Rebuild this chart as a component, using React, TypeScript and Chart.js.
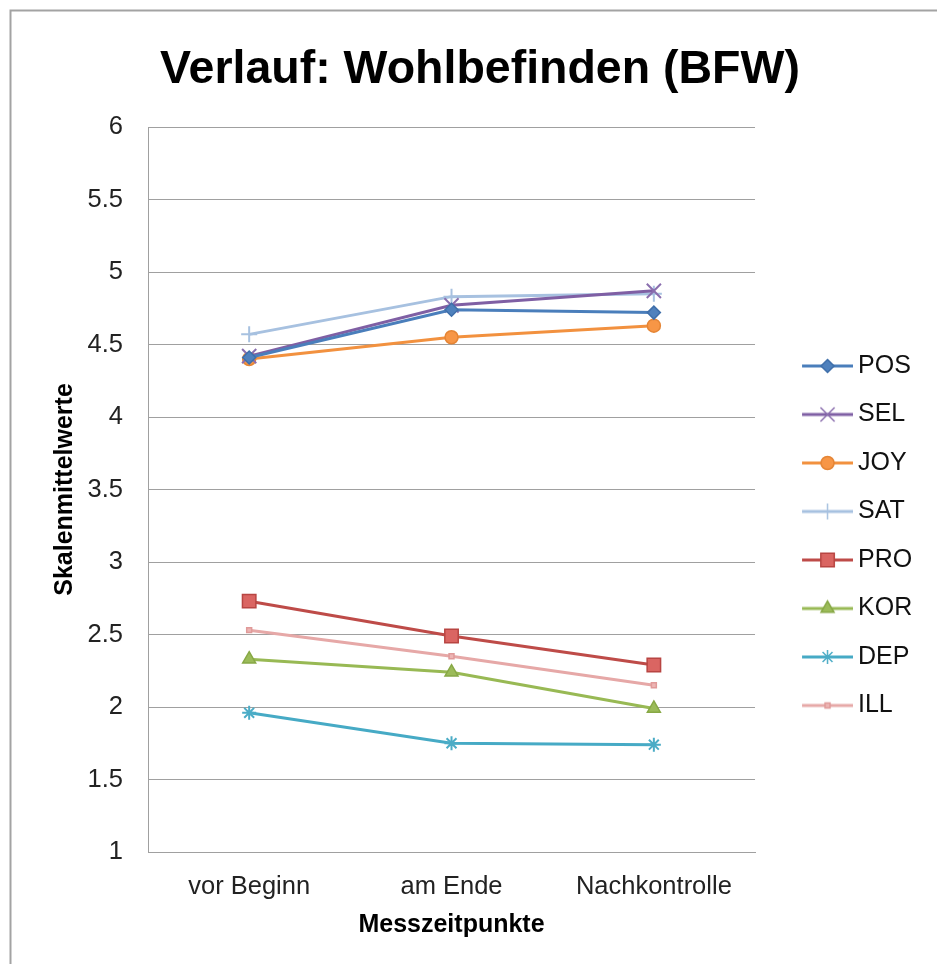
import React, { useEffect, useRef } from 'react';
import { Chart, registerables } from 'chart.js';

Chart.register(...registerables);

const categories = ['vor Beginn', 'am Ende', 'Nachkontrolle'];
const seriesNames = ['POS', 'SEL', 'JOY', 'SAT', 'PRO', 'KOR', 'DEP', 'ILL'];
const POS = [4.41, 4.74, 4.72];
const SEL = [4.42, 4.77, 4.87];
const JOY = [4.4, 4.55, 4.63];
const SAT = [4.57, 4.83, 4.85];
const PRO = [2.73, 2.49, 2.29];
const KOR = [2.33, 2.24, 1.99];
const DEP = [1.96, 1.75, 1.74];
const ILL = [2.53, 2.35, 2.15];
const seriesValues = [POS, SEL, JOY, SAT, PRO, KOR, DEP, ILL];
const yMin = 1;
const yMax = 6;
const yStep = 0.5;

const titleText = 'Verlauf: Wohlbefinden (BFW)';
const xTitle = 'Messzeitpunkte';
const yTitle = 'Skalenmittelwerte';

const FONT = "'Liberation Sans', Arial, Helvetica, sans-serif";

type Style = { line: string; fill: string; border: string; point: string; radius: number };
const styles: Style[] = [
  { line: '#4A7EBB', fill: '#4F81BD', border: '#3F6FAA', point: 'rectRot', radius: 6.5 },
  { line: '#7F5FA4', fill: '#8064A2', border: '#8A6EAE', point: 'crossRot', radius: 10 },
  { line: '#F2913F', fill: '#F79646', border: '#E58535', point: 'circle', radius: 6.5 },
  { line: '#A7C1E0', fill: '#A7C1E0', border: '#A7C1E0', point: 'cross', radius: 8 },
  { line: '#BE4B48', fill: '#DA6562', border: '#B84542', point: 'rect', radius: 9.5 },
  { line: '#98B954', fill: '#9BBB59', border: '#87A845', point: 'triangle', radius: 7.5 },
  { line: '#46AAC5', fill: '#4BACC6', border: '#4BACC6', point: 'star', radius: 7 },
  { line: '#E6A8A7', fill: '#EDB5B4', border: '#E09A99', point: 'rect', radius: 3.5 },
];

function drawMarker(ctx: CanvasRenderingContext2D, s: Style, cx: number, cy: number) {
  const r = s.radius;
  ctx.save();
  ctx.fillStyle = s.fill;
  ctx.strokeStyle = s.border;
  ctx.lineWidth = 1.5;
  ctx.beginPath();
  switch (s.point) {
    case 'rectRot':
      ctx.moveTo(cx, cy - r);
      ctx.lineTo(cx + r, cy);
      ctx.lineTo(cx, cy + r);
      ctx.lineTo(cx - r, cy);
      ctx.closePath();
      ctx.fill();
      ctx.stroke();
      break;
    case 'circle':
      ctx.arc(cx, cy, r, 0, Math.PI * 2);
      ctx.fill();
      ctx.stroke();
      break;
    case 'rect': {
      const h = r * Math.SQRT1_2;
      ctx.rect(cx - h, cy - h, 2 * h, 2 * h);
      ctx.fill();
      ctx.stroke();
      break;
    }
    case 'triangle': {
      for (let i = 0; i < 3; i++) {
        const a = (i * 2 * Math.PI) / 3;
        const px = cx + Math.sin(a) * r;
        const py = cy - Math.cos(a) * r;
        if (i === 0) ctx.moveTo(px, py);
        else ctx.lineTo(px, py);
      }
      ctx.closePath();
      ctx.fill();
      ctx.stroke();
      break;
    }
    case 'cross':
      ctx.moveTo(cx, cy - r);
      ctx.lineTo(cx, cy + r);
      ctx.moveTo(cx - r, cy);
      ctx.lineTo(cx + r, cy);
      ctx.stroke();
      break;
    case 'crossRot': {
      const d = r * Math.SQRT1_2;
      ctx.moveTo(cx - d, cy - d);
      ctx.lineTo(cx + d, cy + d);
      ctx.moveTo(cx - d, cy + d);
      ctx.lineTo(cx + d, cy - d);
      ctx.stroke();
      break;
    }
    case 'star': {
      const d = r * Math.SQRT1_2;
      ctx.moveTo(cx, cy - r);
      ctx.lineTo(cx, cy + r);
      ctx.moveTo(cx - r, cy);
      ctx.lineTo(cx + r, cy);
      ctx.moveTo(cx - d, cy - d);
      ctx.lineTo(cx + d, cy + d);
      ctx.moveTo(cx - d, cy + d);
      ctx.lineTo(cx + d, cy - d);
      ctx.stroke();
      break;
    }
  }
  ctx.restore();
}

// legend icon: line with marker; the image is centred in the legend box
const ICON_W = 82;
const ICON_H = 24;
const ICON_LINE_START = 31;
const ICON_LINE_LEN = 51;

function makeIcon(s: Style): HTMLCanvasElement {
  const c = document.createElement('canvas');
  c.width = ICON_W;
  c.height = ICON_H;
  const ctx = c.getContext('2d')!;
  ctx.strokeStyle = s.line;
  ctx.lineWidth = 3;
  ctx.beginPath();
  ctx.moveTo(ICON_LINE_START, ICON_H / 2);
  ctx.lineTo(ICON_LINE_START + ICON_LINE_LEN, ICON_H / 2);
  ctx.stroke();
  drawMarker(ctx, s, ICON_LINE_START + ICON_LINE_LEN / 2, ICON_H / 2);
  return c;
}

const framePlugin = {
  id: 'frame',
  beforeDraw(chart: any) {
    const { ctx, width, height } = chart;
    ctx.save();
    ctx.fillStyle = '#ffffff';
    ctx.fillRect(0, 0, width, height);
    ctx.strokeStyle = '#a3a3a3';
    ctx.lineWidth = 2;
    ctx.strokeRect(10.5, 10.5, width + 20, height + 20);
    ctx.restore();
  },
};

export default function App() {
  const ref = useRef<HTMLCanvasElement | null>(null);

  useEffect(() => {
    if (!ref.current) return;
    const icons = styles.map(makeIcon);
    const chart = new Chart(ref.current, {
      type: 'line',
      data: {
        labels: categories,
        datasets: seriesNames.map((name, i) => ({
          label: name,
          data: seriesValues[i],
          borderColor: styles[i].line,
          backgroundColor: styles[i].fill,
          borderWidth: 3,
          pointStyle: styles[i].point as any,
          pointRadius: styles[i].radius,
          pointBackgroundColor: styles[i].fill,
          pointBorderColor: styles[i].border,
          pointBorderWidth:
            styles[i].point === 'cross' || styles[i].point === 'crossRot' || styles[i].point === 'star' ? 2 : 1.5,
          tension: 0,
          fill: false,
        })),
      },
      options: {
        animation: false,
        responsive: false,
        devicePixelRatio: 1,
        layout: { padding: { left: 37.8, right: 14.8, top: 0, bottom: 0 } },
        plugins: {
          title: {
            display: true,
            text: titleText,
            color: '#000',
            font: { family: FONT, size: 46.5, weight: 'bold' },
            padding: { top: 42, bottom: 29.2 },
          },
          legend: {
            display: true,
            position: 'right',
            align: 'center',
            title: { display: true, text: '', padding: { top: 93.1, bottom: 0 }, font: { size: 12 } },
            labels: {
              usePointStyle: true,
              pointStyleWidth: 67,
              padding: 23.5,
              color: '#111',
              font: { family: FONT, size: 25 },
              generateLabels: (ch: any) => {
                const base = Chart.defaults.plugins.legend.labels.generateLabels(ch);
                return base.map((item: any, i: number) => ({ ...item, pointStyle: icons[i] }));
              },
            },
          },
          tooltip: { enabled: false },
        },
        scales: {
          x: {
            offset: true,
            grid: { display: false, drawTicks: false },
            border: { display: true, color: '#a0a0a0', width: 1 },
            ticks: { color: '#222', padding: 19.5, font: { family: FONT, size: 25.5 } },
            title: {
              display: true,
              text: xTitle,
              color: '#000',
              font: { family: FONT, size: 25, weight: 'bold' },
              padding: { top: 0, bottom: 24 },
            },
            afterFit: (s: any) => {
              s.height = 112;
            },
          },
          y: {
            min: yMin,
            max: yMax,
            grid: { color: '#a0a0a0', lineWidth: 1, drawTicks: false },
            border: { display: true, color: '#a0a0a0', width: 1 },
            ticks: {
              stepSize: yStep,
              color: '#222',
              padding: 25,
              font: { family: FONT, size: 25.5 },
              callback: (v: any) => String(Number(v)),
            },
            title: {
              display: true,
              text: yTitle,
              color: '#000',
              font: { family: FONT, size: 25, weight: 'bold' },
              padding: { top: 12.2, bottom: 0 },
            },
            afterFit: (s: any) => {
              s.width = 110.2;
            },
          },
        },
      },
      plugins: [framePlugin],
    });
    return () => chart.destroy();
  }, []);

  return (
    <div style={{ position: 'absolute', left: 0, top: 0, width: 937, height: 964 }}>
      <canvas ref={ref} width={937} height={964} style={{ display: 'block', width: 937, height: 964 }} />
    </div>
  );
}
